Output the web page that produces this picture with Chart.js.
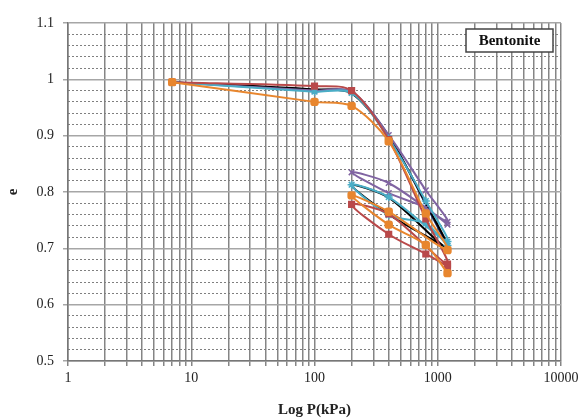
<!DOCTYPE html>
<html>
<head>
<meta charset="utf-8">
<script src="https://cdn.jsdelivr.net/npm/chart.js@4/dist/chart.umd.min.js"></script>
<style>
  html, body { margin: 0; padding: 0; background: #fff; }
  #wrap { width: 579px; height: 419px; position: relative; }
</style>
</head>
<body>
<div id="wrap"><canvas id="chart"></canvas></div>
<script>
// pressure steps: loading, then unload to 200 and reload to 1200
const loadP = [7, 100, 200, 400, 800, 1200];
const loopP = [400, 200, 400, 800, 1200];
const pressures = loadP.concat(loopP);

const eOrange = [0.995, 0.960, 0.953, 0.890, 0.762, 0.697, 0.765, 0.794, 0.742, 0.706, 0.656];
const eRed    = [0.995, 0.988, 0.980, 0.893, 0.752, 0.672, 0.761, 0.778, 0.725, 0.690, 0.668];
const eTeal   = [0.995, 0.978, 0.976, 0.895, 0.784, 0.712, 0.791, 0.813, 0.759, 0.744, 0.705];
const ePurple = [0.995, 0.980, 0.978, 0.901, 0.803, 0.747, 0.816, 0.835, 0.798, 0.772, 0.742];
const eBlack  = [0.995, 0.982, 0.975, 0.898, 0.780, 0.700, 0.790, 0.812, 0.760, 0.722, 0.700];
const eNavy   = [0.995, 0.981, 0.977, 0.900, 0.778, 0.705];

const xTicks = [1, 10, 100, 1000, 10000];
const yMin = 0.5, yMax = 1.1;
const legendText = "Bentonite";

const serif = "'Liberation Serif', 'Times New Roman', serif";

function pts(ps, es) {
  return es.map((e, i) => ({ x: ps[i], y: e }));
}

function series(label, ps, es, color, style, radius) {
  return {
    label,
    data: pts(ps, es),
    borderColor: color,
    backgroundColor: color,
    borderWidth: 2,
    pointStyle: style,
    pointRadius: style ? radius : 0,
    pointBorderColor: color,
    pointBackgroundColor: color,
    pointBorderWidth: 1.5,
    tension: 0.3,
    fill: false,
  };
}

const boxPlugin = {
  id: "bentoniteBox",
  afterDraw(chart) {
    const { ctx, chartArea } = chart;
    const w = 87, h = 23;
    const x = chartArea.right - 8 - w, y = chartArea.top + 6;
    ctx.save();
    ctx.fillStyle = "#fff";
    ctx.fillRect(x, y, w, h);
    ctx.strokeStyle = "#444";
    ctx.lineWidth = 1.5;
    ctx.strokeRect(x, y, w, h);
    ctx.fillStyle = "#111";
    ctx.font = "bold 15px " + serif;
    ctx.textAlign = "center";
    ctx.textBaseline = "middle";
    ctx.fillText(legendText, x + w / 2, y + h / 2 + 1);
    ctx.restore();
  },
};

new Chart(document.getElementById("chart"), {
  type: "line",
  data: {
    datasets: [
      series("Orange", pressures, eOrange, "#E8862E", "rectRounded", 4),
      series("Red", pressures, eRed, "#B9494A", "rect", 4),
      series("Teal", pressures, eTeal, "#4AADC6", "star", 4),
      series("Purple", pressures, ePurple, "#8064A2", "crossRot", 4),
      series("Black", pressures, eBlack, "#000000", false, 0),
      series("Navy", loadP, eNavy, "#1F2F6E", false, 0),
    ],
  },
  options: {
    responsive: true,
    maintainAspectRatio: false,
    animation: false,
    layout: { padding: { top: 23, right: 18, left: 0, bottom: 0 } },
    plugins: { legend: { display: false }, tooltip: { enabled: false } },
    scales: {
      x: {
        type: "logarithmic",
        min: 1,
        max: 10000,
        afterBuildTicks(scale) {
          const t = [];
          for (let d = 1; d < 10000; d *= 10) {
            for (let k = 1; k < 10; k++) t.push({ value: k * d });
          }
          t.push({ value: 10000 });
          scale.ticks = t;
        },
        afterFit(scale) {
          scale.height = 58;
          scale.paddingRight = 0;
          scale.paddingLeft = 0;
        },
        ticks: {
          autoSkip: false,
          maxRotation: 0,
          color: "#222",
          font: { family: serif, size: 14 },
          padding: 4,
          callback(v) { return xTicks.includes(v) ? String(v) : ""; },
        },
        grid: { color: "#858585", lineWidth: 1.5, tickLength: 5 },
        border: { color: "#777", width: 1.5 },
        title: {
          display: true,
          text: "Log P(kPa)",
          color: "#222",
          font: { family: serif, size: 15, weight: "bold" },
          padding: { top: 10, bottom: 0 },
        },
      },
      y: {
        min: yMin,
        max: yMax,
        afterFit(scale) { scale.width = 68; },
        ticks: {
          stepSize: 0.1,
          color: "#222",
          font: { family: serif, size: 14 },
          padding: 9,
          callback(v) { return String(Math.round(v * 10) / 10); },
        },
        grid: { color: "#a6a6a6", lineWidth: 1.5, tickLength: 5 },
        border: { color: "#777", width: 1.5 },
        title: {
          display: true,
          text: "e",
          color: "#222",
          font: { family: serif, size: 15, weight: "bold" },
          padding: { top: 4, bottom: 0 },
        },
      },
      yMinor: {
        position: "left",
        min: yMin,
        max: yMax,
        afterFit(scale) { scale.width = 0; },
        ticks: { display: false, stepSize: 0.02 },
        grid: {
          drawTicks: false,
          lineWidth: 1,
          color(ctx) {
            const v = ctx.tick ? ctx.tick.value : 0;
            const r = Math.round(v * 100);
            return r % 10 === 0 ? "rgba(0,0,0,0)" : "#7f7f7f";
          },
        },
        border: { display: false, dash: [2, 2] },
      },
    },
  },
  plugins: [boxPlugin],
});
</script>
</body>
</html>
